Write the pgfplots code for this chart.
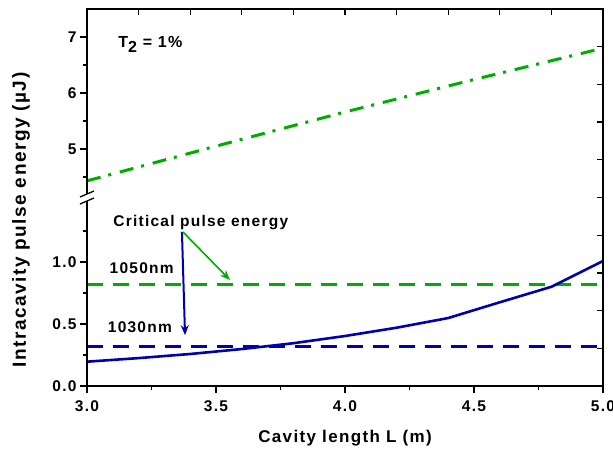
\documentclass[border=0pt]{standalone}
\usepackage{fontspec}
\setmainfont{Liberation Sans}[LetterSpace=8]
\usepackage{pgfplots}
\pgfplotsset{compat=1.18}
\usetikzlibrary{arrows.meta}
\definecolor{og}{RGB}{0,172,0}
\definecolor{ob}{RGB}{0,0,175}
\begin{document}
\begin{tikzpicture}[font=\bfseries]
\useasboundingbox (-87pt,-66pt) rectangle (526pt,386pt);
\pgfplotsset{
  common/.style={scale only axis, width=516pt, xmin=3, xmax=5,
    axis line style={draw=none},
    tick style={black, line width=1.3pt},
    major tick length=7pt, minor tick length=4pt,
    tick label style={font=\fontsize{15.5}{18}\selectfont\bfseries},
  },
}
% lower part
\begin{axis}[common, at={(0pt,0pt)}, anchor=south west, height=190pt,
  ymin=0, ymax=1.532,
  tick align=outside, xtick pos=bottom, ytick pos=left,
  xtick={3,3.5,4,4.5,5}, xticklabels={3.0,3.5,4.0,4.5,5.0},
  minor xtick={3.25,3.75,4.25,4.75},
  ytick={0,0.5,1}, yticklabels={0.0,0.5,1.0},
  minor ytick={0.25,0.75,1.25},
  xticklabel style={yshift=-4pt},
  xlabel={\fontsize{17}{20}\selectfont\bfseries Cavity length L (m)},
  xlabel style={at={(axis description cs:0.5,-0.274)}, anchor=center},
]
\addplot[ob, line width=3pt, dash pattern=on 16pt off 10pt] coordinates {(3,0.32) (5,0.32)};
\addplot[og, line width=3pt, dash pattern=on 16pt off 10pt] coordinates {(3,0.815) (5,0.815)};
\addplot[ob, line width=2.6pt] coordinates {
(3.0,0.196) (3.2,0.225) (3.4,0.258) (3.6,0.298) (3.8,0.345) (4.0,0.403)
(4.2,0.470) (4.4,0.548) (4.6,0.675) (4.8,0.800) (5.0,1.008)};
\draw[ob, line width=2pt, -{Stealth[length=10pt,width=8pt]}] (axis cs:3.368,1.242) -- (axis cs:3.38,0.41);
\draw[og, line width=1.6pt, -{Stealth[length=10pt,width=8pt]}] (axis cs:3.372,1.242) -- (axis cs:3.554,0.855);
\node[font=\fontsize{15.5}{18}\selectfont\bfseries] at (axis cs:3.441,1.317) {Critical pulse energy};
\node[font=\fontsize{15.5}{18}\selectfont\bfseries] at (axis cs:3.212,0.952) {1050nm};
\node[font=\fontsize{15.5}{18}\selectfont\bfseries] at (axis cs:3.205,0.476) {1030nm};
\end{axis}
% upper part
\begin{axis}[common, at={(0pt,190pt)}, anchor=south west, height=187pt,
  ymin=4.16, ymax=7.5,
  tick align=outside, ytick pos=left, xtick=\empty,
  ytick={5,6,7}, yticklabels={5,6,7},
  minor ytick={4.5,5.5,6.5},
]
\addplot[og, line width=3pt, dash pattern=on 14pt off 8pt on 3pt off 9pt] coordinates {
(3.0,4.43) (3.5,5.05) (4.0,5.66) (4.5,6.24) (5.0,6.80)};
\node[font=\fontsize{16}{19}\selectfont\bfseries, anchor=base west] at (axis cs:3.108,6.82) {T\raisebox{-5pt}{2} = 1\%};
\end{axis}
% overlay for top/right ticks and labels
\begin{axis}[common, at={(0pt,0pt)}, anchor=south west, height=377pt,
  ymin=0, ymax=10,
  tick align=inside, major tick length=6.5pt,
  xtick pos=top, ytick pos=right,
  xtick={3.2,3.4,3.6,3.8,4.0,4.2,4.4,4.6,4.8}, xticklabel=\empty,
  ytick={1,2,3,4,5,6,7,8,9}, yticklabel=\empty,
  ylabel={\fontsize{19}{22}\selectfont\bfseries Intracavity pulse energy (\textmu J)},
  ylabel style={at={(axis description cs:-0.128,0.44)}, anchor=center, rotate=0},
]
\end{axis}
\draw[line width=2pt, line join=miter] (0,185pt) -- (0,0) -- (516pt,0) -- (516pt,377pt) -- (0,377pt) -- (0,192pt);
\draw[line width=1.3pt] (-7pt,182pt) -- (7pt,188pt);
\draw[line width=1.3pt] (-7pt,189pt) -- (7pt,195pt);
\end{tikzpicture}
\end{document}
